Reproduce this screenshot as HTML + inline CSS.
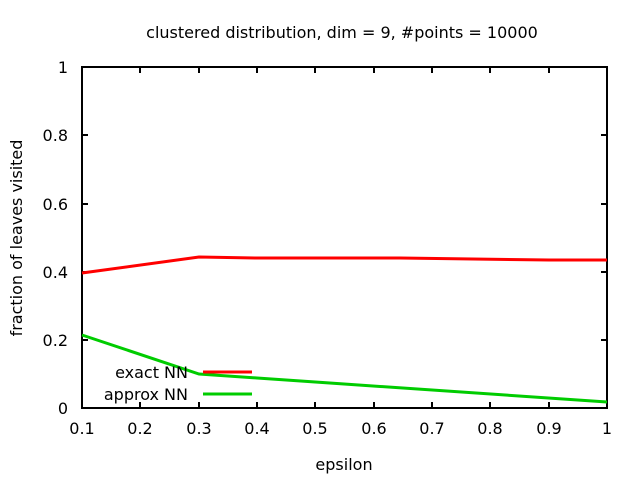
<!DOCTYPE html><html><head><style>body{margin:0;background:#fff}</style></head><body>
<svg width="640" height="480" xmlns="http://www.w3.org/2000/svg" font-family="DejaVu Sans, sans-serif" font-size="16">
<text x="342" y="38" text-anchor="middle">clustered distribution, dim = 9, #points = 10000</text>
<g stroke="#000" stroke-width="2" fill="none">
<rect x="82" y="67" width="525" height="341"/>
<path d="M82 340h6M82 272h6M82 204h6M82 135h6M607 340h-6M607 272h-6M607 204h-6M607 135h-6"/>
<path d="M140 408v-6M199 408v-6M257 408v-6M315 408v-6M374 408v-6M432 408v-6M490 408v-6M549 408v-6M140 67v6M199 67v6M257 67v6M315 67v6M374 67v6M432 67v6M490 67v6M549 67v6"/>
</g>
<g text-anchor="end">
<text x="68" y="414">0</text><text x="68" y="346">0.2</text><text x="68" y="278">0.4</text><text x="68" y="210">0.6</text><text x="68" y="141">0.8</text><text x="68" y="73">1</text>
</g>
<g text-anchor="middle">
<text x="82" y="434">0.1</text><text x="140" y="434">0.2</text><text x="199" y="434">0.3</text><text x="257" y="434">0.4</text><text x="315" y="434">0.5</text><text x="374" y="434">0.6</text><text x="432" y="434">0.7</text><text x="490" y="434">0.8</text><text x="549" y="434">0.9</text><text x="607" y="434">1</text>
<text x="344" y="470">epsilon</text>
<text transform="translate(22,238) rotate(-90)">fraction of leaves visited</text>
</g>
<polyline fill="none" stroke="#f00" stroke-width="3" points="82,273 199,257 257,258 400,258 549,260 607,260"/>
<polyline fill="none" stroke="#0c0" stroke-width="3" points="82,335 199,374 257,378 607,402"/>
<g text-anchor="end"><text x="188" y="378">exact NN</text><text x="188" y="400">approx NN</text></g>
<path d="M203 372h49" stroke="#f00" stroke-width="3"/>
<path d="M203 394h49" stroke="#0c0" stroke-width="3"/>
</svg></body></html>
